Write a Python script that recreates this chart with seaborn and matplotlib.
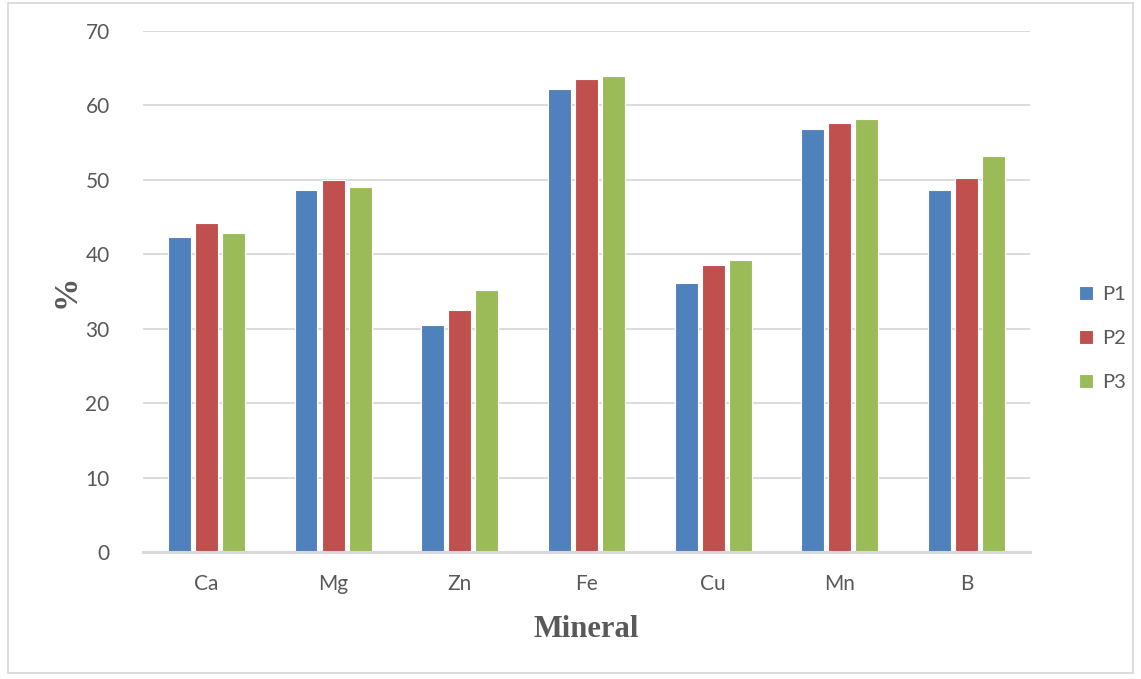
import matplotlib
matplotlib.use("Agg")
import matplotlib.pyplot as plt
from matplotlib.patches import Rectangle
import seaborn as sns
import pandas as pd

minerals = ["Ca", "Mg", "Zn", "Fe", "Cu", "Mn", "B"]
p1 = [42.3, 48.6, 30.5, 62.2, 36.1, 56.8, 48.7]
p2 = [44.2, 50.0, 32.5, 63.5, 38.6, 57.6, 50.2]
p3 = [42.8, 49.0, 35.2, 64.0, 39.2, 58.2, 53.2]
series = ["P1", "P2", "P3"]
colors = ["#4F81BD", "#C0504D", "#9BBB59"]

df = pd.DataFrame({
    "Mineral": minerals * 3,
    "value": p1 + p2 + p3,
    "series": [s for s in series for _ in minerals],
})

sns.set_theme(style="white")
plt.rcParams["font.family"] = ["Lato", "DejaVu Sans"]

fig = plt.figure(figsize=(11.41, 6.79), dpi=100)
ax = fig.add_axes([0.1253, 0.187, 0.7774, 0.7673])

sns.barplot(data=df, x="Mineral", y="value", hue="series", order=minerals,
            hue_order=series, palette=colors, width=0.64, gap=0.15,
            saturation=1, edgecolor="white", linewidth=0.8, ax=ax)

ax.set_ylim(0, 70)
ax.set_yticks(range(0, 71, 10))
ax.set_xlim(-0.5, len(minerals) - 0.5)
ax.yaxis.grid(True, color="#D9D9D9", linewidth=1.3)
ax.set_axisbelow(True)
for side in ["left", "right", "top"]:
    ax.spines[side].set_visible(False)
ax.spines["bottom"].set_color("#D9D9D9")
ax.spines["bottom"].set_linewidth(2.2)
ax.tick_params(axis="both", length=0, labelsize=15, labelcolor="#595959")
ax.tick_params(axis="y", pad=24)
ax.tick_params(axis="x", pad=16)

ax.set_xlabel("Mineral", family="Liberation Serif", fontsize=22,
              fontweight="bold", color="#595959", labelpad=15)
ax.set_ylabel("%", family="Liberation Serif", fontsize=24,
              fontweight="bold", color="#595959", labelpad=3)

handles, labels = ax.get_legend_handles_labels()
ax.legend(handles, labels, loc="center left", bbox_to_anchor=(1.035, 0.41),
          frameon=False, fontsize=14.5, labelcolor="#595959",
          handlelength=0.7, handleheight=0.7, handletextpad=0.45,
          labelspacing=1.35)

fig.patches.append(Rectangle((8 / 1141, 1 - 673 / 679), 1125 / 1141, 670 / 679,
                             transform=fig.transFigure, fill=False,
                             edgecolor="#D9D9D9", linewidth=1.3))

fig.savefig("out.png", dpi=100)
